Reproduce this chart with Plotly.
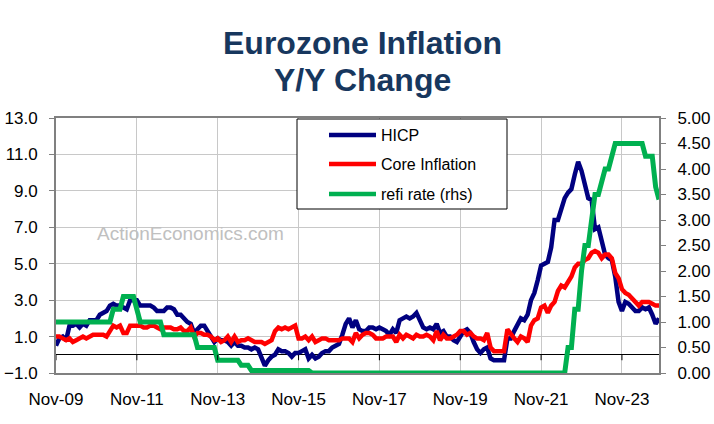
import plotly.graph_objects as go

# ---------------- data (monthly, Nov-09 .. Oct-24) ----------------
hicp = [
    0.5, 0.9,
    1.0, 0.8, 1.6, 1.6, 1.7, 1.5, 1.7, 1.6, 1.9, 1.9, 1.9, 2.2,
    2.3, 2.4, 2.7, 2.8, 2.7, 2.7, 2.6, 2.5, 3.0, 3.0, 3.0, 2.7,
    2.7, 2.7, 2.7, 2.6, 2.4, 2.4, 2.4, 2.6, 2.6, 2.5, 2.2, 2.2,
    2.0, 1.8, 1.7, 1.2, 1.4, 1.6, 1.6, 1.3, 1.1, 0.7, 0.9, 0.8,
    0.8, 0.7, 0.5, 0.7, 0.5, 0.5, 0.4, 0.4, 0.3, 0.4, 0.3, -0.2,
    -0.6, -0.3, -0.1, 0.0, 0.3, 0.2, 0.2, 0.1, -0.1, 0.1, 0.1, 0.2,
    0.3, -0.2, 0.0, -0.2, -0.1, 0.1, 0.2, 0.2, 0.4, 0.5, 0.6, 1.1,
    1.7, 2.0, 1.5, 1.9, 1.4, 1.3, 1.3, 1.5, 1.5, 1.4, 1.5, 1.4,
    1.3, 1.1, 1.4, 1.2, 1.9, 2.0, 2.1, 2.0, 2.1, 2.3, 1.9, 1.5,
    1.4, 1.5, 1.4, 1.7, 1.2, 1.3, 1.0, 1.0, 0.8, 0.7, 1.0, 1.3,
    1.4, 1.2, 0.7, 0.3, 0.1, 0.3, 0.4, -0.2, -0.3, -0.3, -0.3, -0.3,
    0.9, 0.9, 1.3, 1.6, 2.0, 1.9, 2.2, 3.0, 3.4, 4.1, 4.9, 5.0,
    5.1, 5.9, 7.4, 7.4, 8.1, 8.6, 8.9, 9.1, 9.9, 10.6, 10.1, 9.2,
    8.6, 8.5, 6.9, 7.0, 6.1, 5.5, 5.3, 5.2, 4.3, 2.9, 2.4, 2.9,
    2.8, 2.6, 2.4, 2.4, 2.6, 2.5, 2.6, 2.2, 1.7, 2.0,
]

core = [
    1.0, 1.0,
    0.9, 0.8, 0.9, 0.7, 0.8, 0.9, 1.0, 0.9, 1.0, 1.1, 1.1, 1.1,
    1.1, 1.0, 1.3, 1.6, 1.5, 1.6, 1.2, 1.2, 1.6, 1.6, 1.6, 1.6,
    1.5, 1.5, 1.6, 1.6, 1.5, 1.4, 1.5, 1.5, 1.5, 1.4, 1.4, 1.5,
    1.3, 1.3, 1.5, 1.0, 1.2, 1.2, 1.1, 1.1, 1.0, 0.8, 0.9, 0.7,
    0.8, 1.0, 0.7, 1.0, 0.7, 0.8, 0.8, 0.9, 0.8, 0.7, 0.7, 0.7,
    0.6, 0.7, 0.8, 1.3, 1.5, 1.4, 1.5, 1.4, 1.5, 1.6, 0.9, 0.9,
    1.0, 0.8, 1.0, 0.7, 0.8, 0.9, 0.9, 0.8, 0.8, 0.8, 0.8, 0.9,
    0.9, 0.9, 0.7, 1.2, 0.9, 1.1, 1.2, 1.2, 1.1, 0.9, 0.9, 0.9,
    1.0, 1.0, 1.0, 0.7, 1.1, 0.9, 1.1, 1.0, 0.9, 1.1, 1.0, 1.0,
    1.1, 1.0, 0.8, 1.3, 0.8, 1.1, 0.9, 0.9, 1.0, 1.1, 1.3, 1.3,
    1.1, 1.2, 1.0, 0.9, 0.9, 0.8, 1.2, 0.4, 0.2, 0.2, 0.2, 0.2,
    1.4, 1.1, 0.9, 0.7, 1.0, 0.9, 0.7, 1.6, 1.9, 2.0, 2.6, 2.7,
    2.3, 2.7, 2.9, 3.5, 3.8, 3.7, 4.0, 4.3, 4.8, 5.0, 5.0, 5.2,
    5.3, 5.6, 5.7, 5.6, 5.3, 5.5, 5.5, 5.3, 4.5, 4.2, 3.6, 3.4,
    3.3, 3.1, 2.9, 2.7, 2.9, 2.9, 2.9, 2.8, 2.7, 2.7,
]

refi = (
    [1.00] * 17 + [1.25] * 3 + [1.50] * 4 + [1.25] + [1.00] * 7
    + [0.75] * 10 + [0.50] * 6 + [0.25] * 7 + [0.15] * 3 + [0.05] * 18
    + [0.00] * 76
    + [0.50, 0.50, 1.25, 1.25, 2.00, 2.50, 2.50, 3.00, 3.50, 3.50, 3.75, 4.00, 4.00, 4.25]
    + [4.50] * 9 + [4.25, 4.25, 4.25, 3.65, 3.40]
)

months = list(range(len(hicp)))
tick_idx = [0, 24, 48, 72, 96, 120, 144, 168]
tick_labels = ["Nov-09", "Nov-11", "Nov-13", "Nov-15", "Nov-17", "Nov-19", "Nov-21", "Nov-23"]
series_names = ["HICP", "Core Inflation", "refi rate (rhs)"]

# ---------------- layout geometry ----------------
W, H = 714, 424
L, R, T, B = 56, 659, 118, 373
FONT = "Arial, Liberation Sans, sans-serif"
NAVY = "#000080"
RED = "#FF0000"
GREEN = "#00B050"
GRID = "#C8C8C8"
FRAME = "#808080"


def px(x):
    return (x - L) / (R - L)


def py(y):
    return (B - y) / (B - T)


fig = go.Figure()
fig.add_trace(go.Scatter(x=months, y=hicp, mode="lines", name=series_names[0],
                         line=dict(color=NAVY, width=4.5), showlegend=False))
fig.add_trace(go.Scatter(x=months, y=core, mode="lines", name=series_names[1],
                         line=dict(color=RED, width=4.5), showlegend=False))
fig.add_trace(go.Scatter(x=months, y=refi, mode="lines", name=series_names[2], yaxis="y2",
                         line=dict(color=GREEN, width=5), showlegend=False))

shapes = []
# tick marks on the zero line (category axis crosses at 0)
for t in tick_idx:
    shapes.append(dict(type="line", xref="x", yref="y", x0=t, x1=t, y0=0, y1=-0.3,
                       line=dict(color="black", width=1)))

# legend box
shapes.append(dict(type="rect", xref="paper", yref="paper",
                   x0=px(297), x1=px(507), y0=py(209), y1=py(119),
                   line=dict(color="black", width=1), fillcolor="white", layer="above"))
annotations = []
rows = [135, 164, 194]
colors = [NAVY, RED, GREEN]
for name, c, ry in zip(series_names, colors, rows):
    shapes.append(dict(type="line", xref="paper", yref="paper",
                       x0=px(329), x1=px(376), y0=py(ry), y1=py(ry),
                       line=dict(color=c, width=4.5), layer="above"))
    annotations.append(dict(xref="paper", yref="paper", x=px(379), y=py(ry),
                            xanchor="left", yanchor="middle", showarrow=False,
                            text=name, font=dict(family=FONT, size=16, color="black")))

# title
annotations.append(dict(xref="paper", yref="paper", x=px(362), y=py(43),
                        xanchor="center", yanchor="middle", showarrow=False,
                        text="<b>Eurozone Inflation</b>",
                        font=dict(family=FONT, size=32, color="#17375E")))
annotations.append(dict(xref="paper", yref="paper", x=px(362), y=py(80),
                        xanchor="center", yanchor="middle", showarrow=False,
                        text="<b>Y/Y Change</b>",
                        font=dict(family=FONT, size=32, color="#17375E")))
# watermark
annotations.append(dict(xref="paper", yref="paper", x=px(95), y=py(233),
                        xanchor="left", yanchor="middle", showarrow=False,
                        text="ActionEconomics.com",
                        font=dict(family=FONT, size=19, color="#C0C0C0")))

fig.update_layout(
    width=W, height=H,
    margin=dict(l=L, r=W - R, t=T, b=H - B, pad=0, autoexpand=False),
    paper_bgcolor="white", plot_bgcolor="white",
    font=dict(family=FONT, size=17, color="black"),
    showlegend=False,
    xaxis=dict(range=[0, len(months) - 1], tickvals=tick_idx, ticktext=tick_labels,
               showgrid=True, gridcolor=GRID, gridwidth=1, automargin=False,
               showline=True, linecolor=FRAME, linewidth=2, mirror=True,
               ticks="", ticklabelstandoff=10, zeroline=False,
               tickfont=dict(family=FONT, size=17, color="black")),
    yaxis=dict(range=[-1, 13], dtick=2, tick0=-1, tickformat=".1f", automargin=False,
               showgrid=True, gridcolor=GRID, gridwidth=1,
               zeroline=True, zerolinecolor="black", zerolinewidth=1,
               showline=True, linecolor=FRAME, linewidth=2, mirror=True,
               ticks="outside", ticklen=5, tickcolor=FRAME, tickwidth=1,
               ticklabelstandoff=8,
               tickfont=dict(family=FONT, size=17, color="black")),
    yaxis2=dict(range=[0, 5], dtick=0.5, tick0=0, tickformat=".2f", automargin=False,
                overlaying="y", side="right", showgrid=False, zeroline=False,
                showline=True, linecolor=FRAME, linewidth=2,
                ticks="outside", ticklen=5, tickcolor=FRAME, tickwidth=1,
                ticklabelstandoff=8,
                tickfont=dict(family=FONT, size=17, color="black")),
    shapes=shapes,
    annotations=annotations,
)

fig.write_html("out.html", config={"displayModeBar": False},
               post_script="document.body.style.margin='0';")
